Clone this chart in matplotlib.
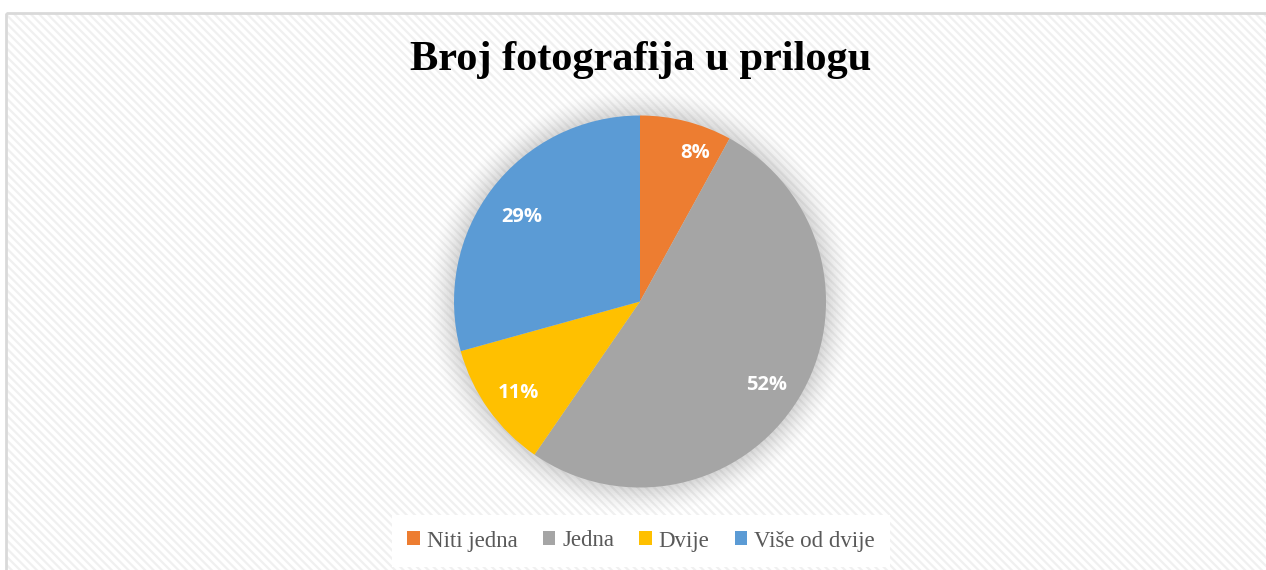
import numpy as np
import matplotlib
matplotlib.use("Agg")
import matplotlib.pyplot as plt
import matplotlib.transforms as mtransforms
from matplotlib.patches import Rectangle, Circle

# podaci (postotci procijenjeni iz kutova isječaka)
kategorije = ["Niti jedna", "Jedna", "Dvije", "Više od dvije"]
postotci = [8.0, 51.6, 11.1, 29.3]
boje = ["#ed7d31", "#a5a5a5", "#ffc000", "#5b9bd5"]
naslov = "Broj fotografija u prilogu"

W, H = 1266, 570
plt.rcParams["hatch.linewidth"] = 1.6

fig = plt.figure(figsize=(W / 100, H / 100), dpi=100)
fig.patch.set_facecolor("white")

# pozadina sa dijagonalnim prugama i okvirom
bgax = fig.add_axes([0, 0, 1, 1], zorder=0)
bgax.set_xlim(0, W)
bgax.set_ylim(H, 0)
bgax.axis("off")
bgax.add_patch(Rectangle((6, 13), W, H, facecolor="white", edgecolor="#f0f0f0",
                         linewidth=0, hatch="\\" * 4))
bgax.add_patch(Rectangle((6, 13), W, H, facecolor="none", edgecolor="#d9d9d9", linewidth=2))

# os za pitu (centar 640,269 px, radijus 186 px)
R = 186
cx, cy = 640, H - 301.5
s = 1.2 * R
ax = fig.add_axes([(cx - s) / W, (cy - s) / H, 2 * s / W, 2 * s / H], zorder=1)
ax.axis("off")

# meka sjena oko pite
for r, a in zip(np.linspace(1.14, 1.0, 16), np.linspace(0.006, 0.035, 16)):
    ax.add_patch(Circle((0, 0), r, facecolor="#7f7f7f", edgecolor="none", alpha=a, zorder=1))

wedges, texts, autotexts = ax.pie(postotci, colors=boje, startangle=90, counterclock=False,
                                  autopct="%.0f%%", pctdistance=0.8, radius=1,
                                  wedgeprops=dict(linewidth=0),
                                  textprops=dict(color="white", fontsize=14.5, fontweight="bold",
                                                 family="Open Sans"))
ax.set_xlim(-1.2, 1.2)
ax.set_ylim(-1.2, 1.2)
ax.set_aspect("equal")
for w in wedges:
    w.set_zorder(2)
pomak = mtransforms.offset_copy(ax.transData, fig=fig, x=0, y=-4, units="points")
for t in autotexts:
    t.set_zorder(3)
    t.set_transform(pomak)
# prvi natpis malo dalje od centra (kao u Excelu)
th = np.deg2rad(90 - 0.4 * 360 * postotci[0] / 100 - 8)
autotexts[0].set_position((0.88 * np.cos(th), 0.88 * np.sin(th)))

fig.text(641 / W, 1 - 60 / H, naslov, ha="center", va="center", fontsize=30.5,
         fontweight="bold", family="Liberation Serif", color="black", zorder=3)

leg = fig.legend(wedges, kategorije, loc="center", bbox_to_anchor=(641 / W, 29 / H), ncol=4,
                 frameon=True, fancybox=False, edgecolor="none", facecolor="white", framealpha=1,
                 prop=dict(family="Liberation Serif", size=16.5), handlelength=0.55, handleheight=0.55,
                 handletextpad=0.3, columnspacing=1.1, borderpad=0.68)
leg.set_zorder(3)
for t in leg.get_texts():
    t.set_color("#595959")

fig.savefig("out.png", dpi=100, facecolor="white")
